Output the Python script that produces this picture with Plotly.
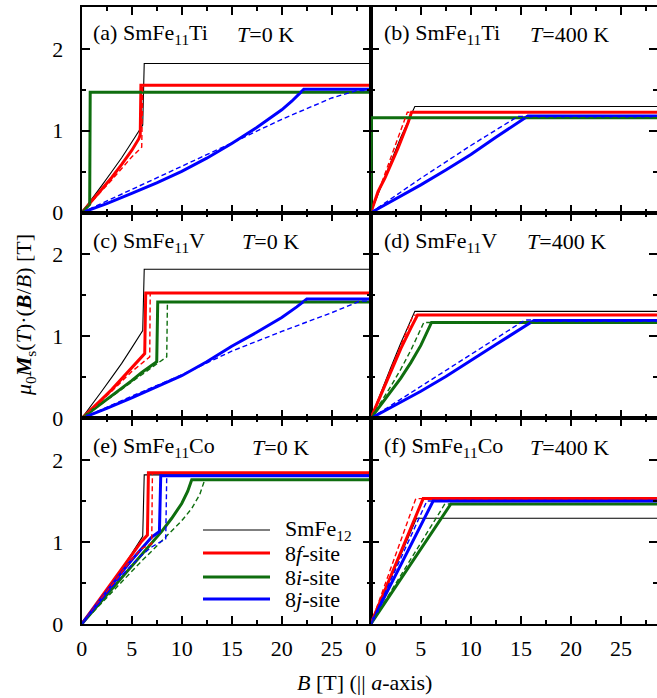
import plotly.graph_objects as go

W, H = 657, 698
FONT = "Liberation Serif"
RED, GREEN, BLUE = "#ff0000", "#0f6e0f", "#0000ff"

# ---- magnetisation curves: (B [T], mu0*Ms*(B/B) [T]) vertices ----
# SmFe12 reference at T = 0 K (shown in a, c, e)
fe12_0K = [(0, 0), (1, 0.16), (2, 0.33), (3, 0.5), (4, 0.67), (5, 0.86), (6.1, 1.07), (6.25, 1.82), (30, 1.82)]

# (a) SmFe11Ti, T = 0 K
ti0_f = [(0, 0), (1, 0.14), (2, 0.28), (3, 0.43), (4, 0.59), (5, 0.76), (5.7, 0.9), (5.85, 0.95), (5.92, 1.555), (30, 1.555)]
ti0_f_d = [(0, 0), (1, 0.13), (2, 0.26), (3, 0.4), (4, 0.54), (5, 0.68), (6.0, 0.8), (6.1, 1.555), (30, 1.555)]
ti0_i = [(0, 0), (0.8, 0.1), (0.85, 1.47), (30, 1.47)]
ti0_i_d = [(0, 0), (0.8, 0.1), (0.85, 1.47), (30, 1.47)]
ti0_j = [(0, 0), (2.5, 0.11), (5, 0.235), (7.5, 0.365), (10, 0.505), (12.5, 0.665), (15, 0.845),
         (17.5, 1.04), (20, 1.255), (21, 1.36), (22.2, 1.505), (30, 1.505)]
ti0_j_d = [(0, 0), (5, 0.28), (10, 0.56), (15, 0.85), (20, 1.14), (25, 1.4), (27.5, 1.49), (30, 1.49)]

# (b) SmFe11Ti, T = 400 K
fe12_ti400 = [(0, 0), (1, 0.32), (2, 0.62), (3, 0.92), (4, 1.19), (4.4, 1.295), (30, 1.295)]
ti4_f = [(0, 0), (0.73, 0.26), (1.4, 0.42), (2.73, 0.79), (3.73, 1.1), (4.07, 1.225), (30, 1.225)]
ti4_f_d = [(0, 0), (1, 0.33), (2, 0.67), (3, 1.01), (3.65, 1.225), (30, 1.225)]
ti4_i = [(0, 0), (0.07, 1.16), (30, 1.16)]
ti4_i_d = [(0, 0), (0.07, 1.16), (30, 1.16)]
ti4_j = [(0, 0), (2.5, 0.165), (5, 0.34), (7.5, 0.52), (10, 0.71), (12.5, 0.92), (15.7, 1.18), (30, 1.18)]
ti4_j_d = [(0, 0), (5, 0.42), (10, 0.82), (14.7, 1.175), (30, 1.175)]

# (c) SmFe11V, T = 0 K
v0_f = [(0, 0), (1, 0.11), (2, 0.23), (3, 0.35), (4, 0.48), (5, 0.61), (6.3, 0.79), (6.4, 1.53), (30, 1.53)]
v0_f_d = [(0, 0), (1, 0.105), (2, 0.215), (3, 0.33), (4, 0.45), (5, 0.57), (6.8, 0.75), (6.85, 1.53), (30, 1.53)]
v0_i = [(0, 0), (1, 0.09), (2, 0.185), (3, 0.28), (4, 0.37), (5, 0.46), (6, 0.56), (7.5, 0.69), (7.6, 1.42), (30, 1.42)]
v0_i_d = [(0, 0), (1, 0.09), (2, 0.18), (3, 0.27), (4, 0.36), (5, 0.45), (6, 0.54), (7, 0.62), (8.5, 0.75), (8.57, 1.42), (30, 1.42)]
v0_j = [(0, 0), (2.5, 0.12), (5, 0.25), (7.5, 0.38), (10, 0.52), (12.5, 0.69), (15, 0.88),
        (17.5, 1.05), (20, 1.23), (21.5, 1.36), (22.5, 1.455), (30, 1.455)]
v0_j_d = [(0, 0), (5, 0.27), (10, 0.53), (15, 0.82), (20, 1.06), (25, 1.29), (27.8, 1.43), (30, 1.43)]

# (d) SmFe11V, T = 400 K
fe12_v400 = [(0, 0), (1, 0.32), (2, 0.62), (3, 0.92), (4, 1.2), (4.4, 1.305), (30, 1.305)]
v4_f = [(0, 0), (1, 0.29), (2, 0.57), (3, 0.85), (4, 1.1), (4.67, 1.26), (30, 1.26)]
v4_f_d = [(0, 0), (1, 0.31), (2, 0.6), (3, 0.89), (4.25, 1.26), (30, 1.26)]
v4_i = [(0, 0), (1, 0.16), (2, 0.32), (3, 0.49), (4, 0.68), (5, 0.89), (6.07, 1.17), (30, 1.17)]
v4_i_d = [(0, 0), (1, 0.19), (2, 0.39), (3, 0.6), (4, 0.83), (5.3, 1.17), (30, 1.17)]
v4_j = [(0, 0), (2.5, 0.16), (5, 0.33), (7.5, 0.51), (10, 0.7), (12.5, 0.9), (16.3, 1.195), (30, 1.195)]
v4_j_d = [(0, 0), (5, 0.39), (10, 0.78), (15.4, 1.2), (30, 1.2)]

# (e) SmFe11Co, T = 0 K
co0_f = [(0, 0), (1, 0.17), (2, 0.34), (3, 0.51), (4, 0.68), (5, 0.85), (6, 1.01), (6.57, 1.085), (6.67, 1.845), (30, 1.845)]
co0_f_d = [(0, 0), (1, 0.16), (2, 0.32), (3, 0.48), (4, 0.64), (5, 0.79), (6, 0.92), (7.0, 0.98), (7.07, 1.845), (30, 1.845)]
co0_i = [(0, 0), (1, 0.14), (2, 0.29), (3, 0.43), (4, 0.57), (5, 0.71), (6, 0.85), (7, 0.99), (8, 1.13),
         (9, 1.29), (10, 1.47), (10.6, 1.62), (11, 1.76), (30, 1.76)]
co0_i_d = [(0, 0), (1, 0.13), (2, 0.26), (3, 0.39), (4, 0.52), (5, 0.64), (6, 0.77), (7, 0.89), (8, 1.01),
           (9, 1.13), (10, 1.26), (11, 1.41), (11.8, 1.58), (12.3, 1.76), (30, 1.76)]
co0_j = [(0, 0), (1, 0.16), (2, 0.32), (3, 0.48), (4, 0.63), (5, 0.78), (6, 0.92), (7, 1.06), (7.77, 1.13), (7.9, 1.81), (30, 1.81)]
co0_j_d = [(0, 0), (1, 0.15), (2, 0.3), (3, 0.45), (4, 0.59), (5, 0.72), (6, 0.84), (7, 0.94), (8.4, 1.04), (8.5, 1.81), (30, 1.81)]

# (f) SmFe11Co, T = 400 K
fe12_co400 = [(0, 0), (4.57, 1.29), (30, 1.29)]
co4_f = [(0, 0), (5.23, 1.53), (30, 1.53)]
co4_f_d = [(0, 0), (4.5, 1.53), (30, 1.53)]
co4_i = [(0, 0), (8.0, 1.465), (30, 1.465)]
co4_i_d = [(0, 0), (7.4, 1.465), (30, 1.465)]
co4_j = [(0, 0), (6.23, 1.5), (30, 1.5)]
co4_j_d = [(0, 0), (5.6, 1.5), (30, 1.5)]

panel_tags = ["(a)", "(b)", "(c)", "(d)", "(e)", "(f)"]
panel_compounds = ["SmFe<sub>11</sub>Ti", "SmFe<sub>11</sub>Ti", "SmFe<sub>11</sub>V",
                   "SmFe<sub>11</sub>V", "SmFe<sub>11</sub>Co", "SmFe<sub>11</sub>Co"]
panel_temps = ["<i>T</i>=0 K", "<i>T</i>=400 K", "<i>T</i>=0 K",
               "<i>T</i>=400 K", "<i>T</i>=0 K", "<i>T</i>=400 K"]
legend_labels = ["SmFe<sub>12</sub>", "8<i>f</i>-site", "8<i>i</i>-site", "8<i>j</i>-site"]
x_ticks = [0, 5, 10, 15, 20, 25]
y_ticks = [0, 1, 2]

panels = [
    (fe12_0K, ti0_f, ti0_f_d, ti0_i, ti0_i_d, ti0_j, ti0_j_d),
    (fe12_ti400, ti4_f, ti4_f_d, ti4_i, ti4_i_d, ti4_j, ti4_j_d),
    (fe12_0K, v0_f, v0_f_d, v0_i, v0_i_d, v0_j, v0_j_d),
    (fe12_v400, v4_f, v4_f_d, v4_i, v4_i_d, v4_j, v4_j_d),
    (fe12_0K, co0_f, co0_f_d, co0_i, co0_i_d, co0_j, co0_j_d),
    (fe12_co400, co4_f, co4_f_d, co4_i, co4_i_d, co4_j, co4_j_d),
]

styles = [
    dict(color="black", width=1.1),
    dict(color=RED, width=3),
    dict(color=RED, width=1.4, dash="5px,3px"),
    dict(color=GREEN, width=3),
    dict(color=GREEN, width=1.4, dash="5px,3px"),
    dict(color=BLUE, width=3),
    dict(color=BLUE, width=1.4, dash="5px,3px"),
]
draw_order = [0, 1, 3, 5, 2, 4, 6]

# ---- layout geometry (pixels) ----
X_LEFT, X_MID, X_RIGHT = 81.7, 370.8, 657.0
ROW_EDGES = [7.0, 212.7, 418.3, 624.0]
X_RANGE_L = [0, 28.9]
X_RANGE_R = [0, 28.6]
Y_RANGE = [0, 2.51]
FS = 22


def px(x):
    return x / W


def py(y):
    return 1 - y / H


fig = go.Figure()

for k, curves in enumerate(panels):
    ax = k + 1
    for idx in draw_order:
        pts = curves[idx]
        fig.add_trace(go.Scatter(
            x=[p[0] for p in pts], y=[p[1] for p in pts],
            mode="lines", line=styles[idx], showlegend=False,
            xaxis=f"x{ax}", yaxis=f"y{ax}", hoverinfo="skip",
        ))

# carriers for the right-hand tick axes of the right column
for n, ref in zip((7, 8, 9), (2, 4, 6)):
    fig.add_trace(go.Scatter(x=[None], y=[None], xaxis=f"x{ref}", yaxis=f"y{n}",
                             showlegend=False, hoverinfo="skip"))

tickfont = dict(family=FONT, size=FS, color="black")
common = dict(showgrid=False, zeroline=False, ticks="inside", tickcolor="black",
              tickwidth=1.5, ticklen=8, linecolor="black", linewidth=2, showline=True,
              automargin=False)

layout = dict(
    width=W, height=H, margin=dict(l=0, r=0, t=0, b=0, autoexpand=False),
    paper_bgcolor="white", plot_bgcolor="white", showlegend=False,
    font=dict(family=FONT, size=FS, color="black"),
)

for k in range(6):
    ax = k + 1
    row, col = divmod(k, 2)
    xdom = [px(X_LEFT), px(X_MID)] if col == 0 else [px(X_MID), px(X_RIGHT)]
    ydom = [py(ROW_EDGES[row + 1]), py(ROW_EDGES[row])]
    layout[f"xaxis{ax}"] = dict(
        common, domain=xdom, anchor=f"y{ax}", mirror="ticks",
        range=X_RANGE_L if col == 0 else X_RANGE_R,
        tickvals=x_ticks, showticklabels=(row == 2), tickfont=tickfont,
        ticklabelstandoff=4,
        minor=dict(dtick=2.5, tick0=0, ticks="inside", ticklen=4, tickwidth=1.5, tickcolor="black"),
    )
    layout[f"yaxis{ax}"] = dict(
        common, domain=ydom, anchor=f"x{ax}",
        mirror="ticks" if col == 0 else False,
        range=Y_RANGE, tickvals=y_ticks, showticklabels=(col == 0), tickfont=tickfont,
        ticklabelstandoff=12,
        minor=dict(dtick=0.5, tick0=0, ticks="inside", ticklen=4, tickwidth=1.5, tickcolor="black"),
    )

for n, ref in zip((7, 8, 9), (2, 4, 6)):
    layout[f"yaxis{n}"] = dict(
        overlaying=f"y{ref}", side="right", anchor=f"x{ref}", range=Y_RANGE,
        showgrid=False, zeroline=False, showline=False, showticklabels=False, automargin=False,
        ticks="inside", tickvals=y_ticks, ticklen=8, tickwidth=1.5, tickcolor="black",
        minor=dict(dtick=0.5, tick0=0, ticks="inside", ticklen=4, tickwidth=1.5, tickcolor="black"),
    )

fig.update_layout(**layout)

ann = []
txt = dict(family=FONT, size=FS, color="black")
tag_pos = [(91, 34), (382, 34), (91, 242), (382, 242), (91, 447), (382, 447)]
temp_x = [235, 528, 240, 525, 250, 528]
for k in range(6):
    x0, y0 = tag_pos[k]
    ann.append(dict(x=px(x0), y=py(y0), xref="paper", yref="paper", xanchor="left", yanchor="middle",
                    text=f"{panel_tags[k]} {panel_compounds[k]}", showarrow=False, font=txt))
    ann.append(dict(x=px(temp_x[k]), y=py(y0), xref="paper", yref="paper", xanchor="left", yanchor="middle",
                    text=panel_temps[k], showarrow=False, font=txt))

# axis titles
ann.append(dict(x=px(364), y=py(682), xref="paper", yref="paper", xanchor="center", yanchor="middle",
                text="<i>B</i> [T] (|| <i>a</i>-axis)", showarrow=False, font=txt))
ann.append(dict(x=px(25), y=py(315), xref="paper", yref="paper", xanchor="center", yanchor="middle",
                textangle=-90,
                text="<i>μ</i><sub>0</sub><b><i>M</i></b><sub>s</sub>(<i>T</i>)·(<b><i>B</i></b>/<i>B</i>) [T]",
                showarrow=False, font=txt))

# legend inside panel (e)
shapes = []
leg_rows = [530, 553, 577, 599]
leg_styles = [styles[0], styles[1], styles[3], styles[5]]
for label, yy, st in zip(legend_labels, leg_rows, leg_styles):
    shapes.append(dict(type="line", xref="paper", yref="paper", x0=px(203), x1=px(270),
                       y0=py(yy), y1=py(yy), line=dict(color=st["color"], width=st["width"])))
    ann.append(dict(x=px(283), y=py(yy), xref="paper", yref="paper", xanchor="left", yanchor="middle",
                    text=label, showarrow=False, font=txt))

fig.update_layout(annotations=ann, shapes=shapes)
fig.write_html("out.html")
